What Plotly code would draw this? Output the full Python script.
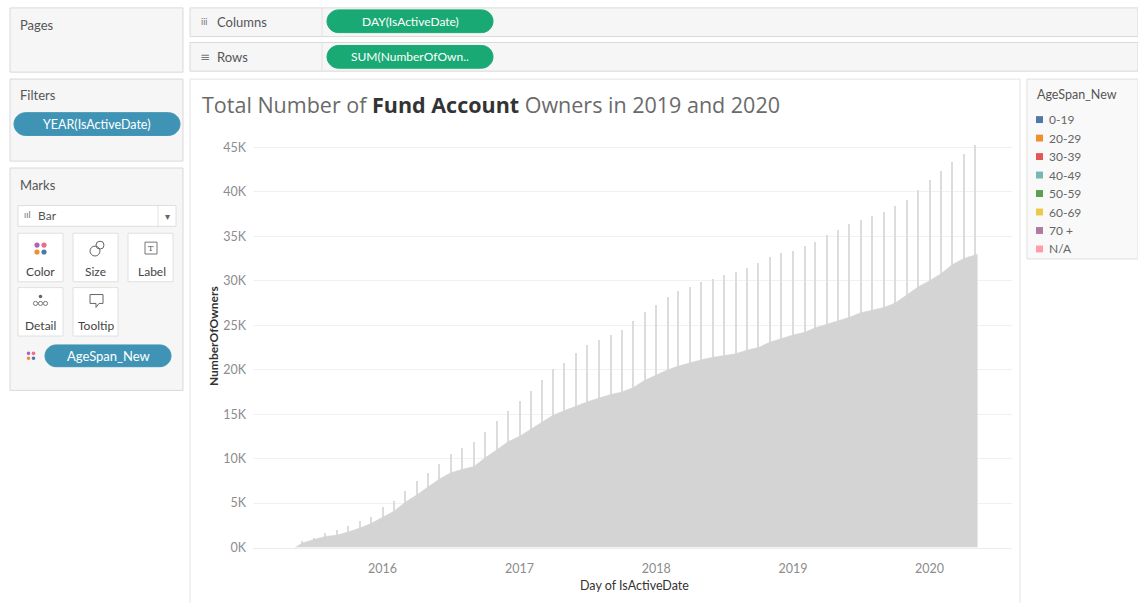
import plotly.graph_objects as go

W, H = 1138, 603

# ---------------- data ----------------
spike_dates = [
    "2015-06-01", "2015-07-01", "2015-08-01", "2015-09-01", "2015-10-01", "2015-11-01", "2015-12-01",
    "2016-01-01", "2016-02-01", "2016-03-01", "2016-04-01", "2016-05-01", "2016-06-01",
    "2016-07-01", "2016-08-01", "2016-09-01", "2016-10-01", "2016-11-01", "2016-12-01",
    "2017-01-01", "2017-02-01", "2017-03-01", "2017-04-01", "2017-05-01", "2017-06-01",
    "2017-07-01", "2017-08-01", "2017-09-01", "2017-10-01", "2017-11-01", "2017-12-01",
    "2018-01-01", "2018-02-01", "2018-03-01", "2018-04-01", "2018-05-01", "2018-06-01",
    "2018-07-01", "2018-08-01", "2018-09-01", "2018-10-01", "2018-11-01", "2018-12-01",
    "2019-01-01", "2019-02-01", "2019-03-01", "2019-04-01", "2019-05-01", "2019-06-01",
    "2019-07-01", "2019-08-01", "2019-09-01", "2019-10-01", "2019-11-01", "2019-12-01",
    "2020-01-01", "2020-02-01", "2020-03-01", "2020-04-01", "2020-05-01",
]
spike_owners = [
    700, 1050, 1600, 1950, 2400, 2900, 3400,
    4500, 5200, 6300, 7400, 8300, 9400, 10500, 11200, 11800, 12900, 14200, 15300,
    16400, 17500, 18800, 20000, 20750, 21800, 22700, 23300, 23900, 24400, 25400, 26400,
    27200, 28100, 28800, 29300, 29800, 30100, 30600, 30900, 31400, 31900, 32600, 33100,
    33300, 33900, 34300, 35100, 35700, 36300, 36800, 37200, 37700, 38300, 39000, 40200,
    41300, 42300, 43300, 44200, 45200,
]
daily_dates = ["2015-05-12"] + spike_dates + ["2020-05-08"]
daily_owners = [0,
    500, 900, 1250, 1400, 1750, 2200, 2700,
    3400, 4100, 5100, 5900, 6800, 7700, 8400, 8800, 9100, 10100, 11000, 11900,
    12500, 13300, 14100, 14900, 15400, 15900, 16400, 16800, 17200, 17500, 18000, 18800,
    19400, 20000, 20400, 20800, 21100, 21400, 21600, 21800, 22200, 22500, 23100, 23500,
    23900, 24200, 24700, 25100, 25500, 25900, 26400, 26700, 27000, 27500, 28400, 29300,
    30000, 30800, 31800, 32500, 32900,
    33000]

y_tick_vals = [0, 5000, 10000, 15000, 20000, 25000, 30000, 35000, 40000, 45000]
y_tick_text = ["0K", "5K", "10K", "15K", "20K", "25K", "30K", "35K", "40K", "45K"]
x_tick_vals = ["2016-01-01", "2017-01-01", "2018-01-01", "2019-01-01", "2020-01-01"]
x_tick_text = ["2016", "2017", "2018", "2019", "2020"]

legend_labels = ["0-19", "20-29", "30-39", "40-49", "50-59", "60-69", "70 +", "N/A"]
legend_colors = ["#4e79a7", "#f28e2b", "#e15759", "#76b7b2", "#59a14f", "#edc948", "#b07aa1", "#ff9da7"]

FONT = "Lato"

# ---------------- helpers (pixel -> paper) ----------------
def X(x):
    return x / W

def Y(y):
    return 1 - y / H

shapes = []
annotations = []

def rect(x0, y0, x1, y1, fill, line="#d9d9d9", lw=1):
    shapes.append(dict(type="rect", xref="paper", yref="paper", x0=X(x0), x1=X(x1), y0=Y(y1), y1=Y(y0),
                       fillcolor=fill, line=dict(color=line, width=lw), layer="below"))

def pill(x0, y0, x1, y1, fill):
    r = (y1 - y0) / 2
    k = 0.55 * r
    pts = [
        f"M {X(x0 + r)},{Y(y0)}",
        f"L {X(x1 - r)},{Y(y0)}",
        f"C {X(x1 - r + k)},{Y(y0)} {X(x1)},{Y(y0 + r - k)} {X(x1)},{Y(y0 + r)}",
        f"C {X(x1)},{Y(y0 + r + k)} {X(x1 - r + k)},{Y(y1)} {X(x1 - r)},{Y(y1)}",
        f"L {X(x0 + r)},{Y(y1)}",
        f"C {X(x0 + r - k)},{Y(y1)} {X(x0)},{Y(y0 + r + k)} {X(x0)},{Y(y0 + r)}",
        f"C {X(x0)},{Y(y0 + r - k)} {X(x0 + r - k)},{Y(y0)} {X(x0 + r)},{Y(y0)} Z",
    ]
    shapes.append(dict(type="path", xref="paper", yref="paper", path=" ".join(pts),
                       fillcolor=fill, line=dict(color=fill, width=1), layer="above"))

def circle(cx, cy, r, fill=None, line=None, lw=1):
    shapes.append(dict(type="circle", xref="paper", yref="paper", x0=X(cx - r), x1=X(cx + r),
                       y0=Y(cy + r), y1=Y(cy - r), fillcolor=fill or "rgba(0,0,0,0)",
                       line=dict(color=line or fill or "#777", width=lw if line else 0), layer="above"))

def text(x, y, s, size=12, color="#555", anchor="left", family=FONT, textangle=0):
    annotations.append(dict(x=X(x), y=Y(y), xref="paper", yref="paper", text=s, showarrow=False,
                            xanchor=anchor, yanchor="middle", textangle=textangle,
                            font=dict(family=family, size=size, color=color)))

GREEN = "#19a974"
BLUE = "#3f94b5"
PANEL = "#f6f6f6"

# ---------------- Tableau UI chrome ----------------
# Pages
rect(10, 8, 183, 73, PANEL)
text(18, 25, "Pages", 13, "#555")
# Columns / Rows shelves
rect(190, 8, 1138, 37, PANEL)
rect(190, 43, 1138, 72, PANEL)
shapes.append(dict(type="line", xref="paper", yref="paper", x0=X(322), x1=X(322), y0=Y(8), y1=Y(37),
                   line=dict(color="#e2e2e2", width=1)))
shapes.append(dict(type="line", xref="paper", yref="paper", x0=X(322), x1=X(322), y0=Y(43), y1=Y(72),
                   line=dict(color="#e2e2e2", width=1)))
text(199, 22, "iii", 9, "#777")
text(215, 22, "Columns", 13, "#555")
text(198, 58, "≡", 12, "#777", family="DejaVu Sans")
text(215, 58, "Rows", 13, "#555")
pill(327, 10, 493, 33, GREEN)
text(410, 21.5, "DAY(IsActiveDate)", 12, "#ffffff", "center")
pill(327, 46, 493, 69, GREEN)
text(410, 57.5, "SUM(NumberOfOwn..", 12, "#ffffff", "center")

# Filters
rect(10, 80, 183, 163, PANEL)
text(18, 96, "Filters", 13, "#555")
pill(14, 114, 180, 137, BLUE)
text(97, 125.5, "YEAR(IsActiveDate)", 12.5, "#ffffff", "center")

# Marks
rect(10, 170, 183, 395, PANEL)
text(18, 187, "Marks", 13, "#555")
rect(18, 208, 176, 229, "#ffffff", "#dedede")
shapes.append(dict(type="line", xref="paper", yref="paper", x0=X(158), x1=X(158), y0=Y(208), y1=Y(229),
                   line=dict(color="#e4e4e4", width=1)))
text(22, 218.5, "ııl", 8, "#666", family="DejaVu Sans")
text(36, 218.5, "Bar", 12, "#555")
text(167, 219.5, "▾", 10, "#666", "center", family="DejaVu Sans")
for (bx0, by0) in [(18, 236), (73, 236), (128, 236), (18, 291), (73, 291)]:
    rect(bx0, by0, bx0 + 45, by0 + 49, "#ffffff", "#e0e0e0")
# Color icon
circle(37, 248, 2.6, fill="#b05fc0")
circle(44, 248, 2.6, fill="#ef6b8a")
circle(37, 255, 2.6, fill="#f28e2b")
circle(44, 255, 2.6, fill="#4e79a7")
text(40.5, 275, "Color", 12, "#444", "center")
# Size icon
circle(95, 254, 5, line="#666", lw=1)
circle(100, 248, 4, line="#666", lw=1)
text(95.5, 275, "Size", 12, "#444", "center")
# Label icon
rect(145, 245, 157, 257, "#ffffff", "#777")
shapes[-1]["layer"] = "above"
text(151, 251, "T", 8, "#555", "center", family="DejaVu Serif")
text(152, 275, "Label", 12, "#444", "center")
# Detail icon
circle(40.5, 300, 1.8, fill="#666")
for cx in (35.5, 40.5, 45.5):
    circle(cx, 307, 2.1, line="#777", lw=1)
text(40.5, 329, "Detail", 12, "#444", "center")
# Tooltip icon
shapes.append(dict(type="path", xref="paper", yref="paper",
                   path=f"M {X(90)},{Y(298)} L {X(103)},{Y(298)} L {X(103)},{Y(307)} L {X(99)},{Y(307)} "
                        f"L {X(96)},{Y(311)} L {X(96)},{Y(307)} L {X(90)},{Y(307)} Z",
                   fillcolor="#ffffff", line=dict(color="#666", width=1), layer="above"))
text(95.5, 329, "Tooltip", 12, "#444", "center")
# AgeSpan pill with colour dots
circle(28.5, 357.5, 1.8, fill="#b05fc0")
circle(33.5, 357.5, 1.8, fill="#ef6b8a")
circle(28.5, 362.5, 1.8, fill="#f28e2b")
circle(33.5, 362.5, 1.8, fill="#4e79a7")
pill(45, 349, 171, 371, BLUE)
text(108, 360, "AgeSpan_New", 13, "#ffffff", "center")

# Chart pane
rect(190, 80, 1020, 640, "#ffffff", "#e3e3e3")
text(200, 106, "<span style='color:#6a6a6a'>Total Number of </span><b>Fund Account</b>"
               "<span style='color:#6a6a6a'> Owners in 2019 and 2020</span>", 21.5, "#333",
     family="Open Sans")
text(213, 340, "<b>NumberOfOwners</b>", 12, "#333", "center", textangle=-90)
text(634, 592, "Day of IsActiveDate", 12.5, "#333", "center")

# Legend pane
rect(1027, 80, 1138, 262, "#f9f9f9", "#e0e0e0")
text(1035, 96, "AgeSpan_New", 12.5, "#555")
for i, (lab, col) in enumerate(zip(legend_labels, legend_colors)):
    yy = 121 + i * 18.7
    shapes.append(dict(type="rect", xref="paper", yref="paper", x0=X(1036), x1=X(1043),
                       y0=Y(yy + 3.5), y1=Y(yy - 3.5), fillcolor=col, line=dict(width=0), layer="above"))
    text(1047, yy, lab, 12, "#666")

# ---------------- chart ----------------
fig = go.Figure()
fig.add_trace(go.Bar(x=spike_dates, y=spike_owners, width=3 * 86400000,
                     marker=dict(color="#dcdcdc", line=dict(width=0)), name="NumberOfOwners",
                     showlegend=False))
fig.add_trace(go.Scatter(x=daily_dates, y=daily_owners, mode="lines", fill="tozeroy",
                         fillcolor="#d4d4d4", line=dict(color="#d4d4d4", width=0.5),
                         name="NumberOfOwners", showlegend=False))

fig.update_layout(
    width=W, height=H,
    margin=dict(l=0, r=0, t=0, b=0),
    paper_bgcolor="#ffffff",
    plot_bgcolor="#ffffff",
    showlegend=False,
    bargap=0,
    font=dict(family=FONT, size=12, color="#555"),
    shapes=shapes,
    annotations=annotations,
    xaxis=dict(
        domain=[X(253), X(1012)], type="date", range=["2015-01-20", "2020-08-08"],
        tickvals=x_tick_vals, ticktext=x_tick_text, showgrid=False, zeroline=False,
        showline=True, linecolor="#ececec", linewidth=1, ticks="",
        tickfont=dict(family=FONT, size=12.5, color="#8c8c8c"), ticklabelstandoff=9,
        fixedrange=True,
    ),
    yaxis=dict(
        domain=[Y(554), Y(135)], range=[0, 46556],
        tickvals=y_tick_vals, ticktext=y_tick_text, showgrid=True, gridcolor="#f1f1f1",
        gridwidth=1, zeroline=False, ticks="",
        tickfont=dict(family=FONT, size=12.5, color="#8c8c8c"), ticklabelstandoff=6,
        fixedrange=True,
    ),
)

fig.write_html("out.html")
